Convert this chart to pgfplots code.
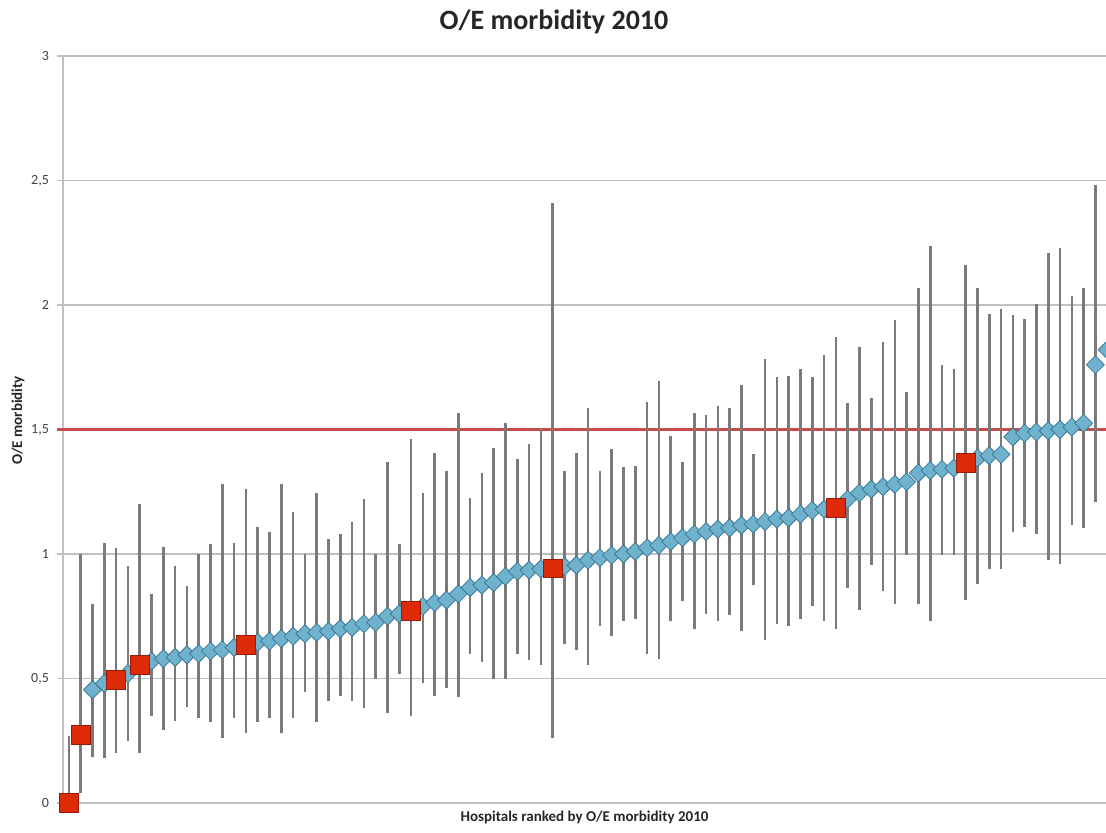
\documentclass[border=0pt]{standalone}
\usepackage{fontspec}
\setmainfont{Carlito}
\usepackage{pgfplots}
\usepackage{pgfplotstable}
\pgfplotsset{compat=1.18}
\definecolor{gridc}{RGB}{192,192,192}
\definecolor{barc}{RGB}{122,122,122}
\definecolor{dfill}{RGB}{110,178,205}
\definecolor{ddraw}{RGB}{62,120,148}
\definecolor{rfill}{RGB}{221,43,8}
\definecolor{rdraw}{RGB}{150,28,5}
\definecolor{refl}{RGB}{200,75,75}

\pgfplotstableread{
i lo hi b r
1 0 0.27 nan 0
2 0.04 1.0 nan 0.275
3 0.185 0.80 0.455 nan
4 0.18 1.045 0.48 nan
5 0.20 1.025 nan 0.495
6 0.25 0.95 0.52 nan
7 0.20 1.20 nan 0.555
8 0.35 0.84 0.57 nan
9 0.295 1.03 0.58 nan
10 0.33 0.95 0.585 nan
11 0.385 0.87 0.595 nan
12 0.34 1.0 0.60 nan
13 0.325 1.04 0.61 nan
14 0.26 1.28 0.615 nan
15 0.34 1.045 0.625 nan
16 0.28 1.26 nan 0.635
17 0.325 1.11 0.645 nan
18 0.34 1.09 0.65 nan
19 0.28 1.28 0.66 nan
20 0.34 1.17 0.67 nan
21 0.445 1.0 0.68 nan
22 0.325 1.245 0.685 nan
23 0.41 1.06 0.69 nan
24 0.43 1.08 0.70 nan
25 0.41 1.13 0.705 nan
26 0.38 1.22 0.72 nan
27 0.50 1.0 0.725 nan
28 0.36 1.37 0.75 nan
29 0.52 1.04 0.76 nan
30 0.35 1.46 nan 0.77
31 0.48 1.245 0.79 nan
32 0.43 1.405 0.805 nan
33 0.46 1.335 0.815 nan
34 0.425 1.565 0.84 nan
35 0.60 1.225 0.865 nan
36 0.565 1.325 0.875 nan
37 0.50 1.425 0.885 nan
38 0.50 1.525 0.91 nan
39 0.60 1.38 0.93 nan
40 0.575 1.44 0.935 nan
41 0.555 1.505 0.94 nan
42 0.26 2.41 nan 0.942
43 0.64 1.335 0.95 nan
44 0.615 1.405 0.955 nan
45 0.555 1.585 0.975 nan
46 0.71 1.335 0.985 nan
47 0.67 1.42 0.995 nan
48 0.73 1.35 1.0 nan
49 0.74 1.355 1.01 nan
50 0.60 1.61 1.025 nan
51 0.58 1.695 1.035 nan
52 0.73 1.475 1.05 nan
53 0.81 1.37 1.065 nan
54 0.70 1.565 1.08 nan
55 0.76 1.56 1.09 nan
56 0.73 1.595 1.10 nan
57 0.755 1.585 1.105 nan
58 0.69 1.68 1.115 nan
59 0.875 1.40 1.12 nan
60 0.655 1.785 1.13 nan
61 0.72 1.71 1.14 nan
62 0.71 1.715 1.145 nan
63 0.74 1.745 1.16 nan
64 0.79 1.71 1.175 nan
65 0.73 1.80 1.18 nan
66 0.70 1.87 nan 1.185
67 0.865 1.605 1.22 nan
68 0.775 1.83 1.245 nan
69 0.955 1.625 1.26 nan
70 0.85 1.85 1.27 nan
71 0.80 1.94 1.28 nan
72 0.995 1.65 1.29 nan
73 0.80 2.07 1.325 nan
74 0.73 2.235 1.335 nan
75 0.995 1.76 1.34 nan
76 0.995 1.745 1.345 nan
77 0.815 2.16 nan 1.365
78 0.88 2.07 1.385 nan
79 0.94 1.965 1.395 nan
80 0.94 1.985 1.40 nan
81 1.09 1.96 1.47 nan
82 1.11 1.945 1.485 nan
83 1.08 2.005 1.49 nan
84 0.975 2.21 1.495 nan
85 0.96 2.23 1.50 nan
86 1.115 2.035 1.51 nan
87 1.105 2.07 1.525 nan
88 1.21 2.48 1.76 nan
89 1.25 2.60 1.82 nan
}\data

\begin{document}
\begin{tikzpicture}
\useasboundingbox (-31.5pt,-14.5pt) rectangle (521.5pt,401.5pt);
\begin{axis}[
  at={(0,0)}, anchor=south west,
  scale only axis, width=521.5pt, height=373.5pt,
  xmin=0.5, xmax=88.9, ymin=0, ymax=3,
  clip=false,
  axis lines*=left,
  axis line style={draw=gridc, line width=0.9pt},
  xtick=\empty,
  ytick={0,0.5,1,1.5,2,2.5,3},
  yticklabels={0,{0,5},1,{1,5},2,{2,5},3},
  ymajorgrids,
  grid style={draw=gridc, line width=0.8pt},
  tick align=outside, major tick length=3pt,
  tick style={draw=gridc, line width=0.8pt},
  yticklabel style={font=\fontsize{7}{8}\selectfont, text=black!75, xshift=-0.5pt},
  xlabel={Hospitals ranked by O/E morbidity 2010},
  ylabel={O/E morbidity},
  label style={font=\bfseries\fontsize{7.5}{9}\selectfont, text=black!85},
  xlabel style={at={(axis description cs:0.5,0)}, anchor=center, yshift=-7pt},
  ylabel style={at={(axis description cs:0,0.512)}, anchor=center, yshift=22.5pt},
]
\addplot[refl, line width=1.2pt, forget plot] coordinates {(0,1.5) (95,1.5)};
\addplot[draw=none, mark=none, forget plot,
  error bars/.cd, y dir=plus, y explicit, error mark=none,
  error bar style={draw=barc, line width=1.3pt}]
  table[x=i, y=lo, y error plus expr=\thisrow{hi}-\thisrow{lo}] {\data};
\addplot[only marks, mark=diamond*, mark size=4.5pt,
  mark options={xscale=1.333, fill=dfill, draw=ddraw, line width=0.4pt}]
  table[x=i, y=b] {\data};
\addplot[only marks, mark=square*, mark size=4.7pt,
  mark options={fill=rfill, draw=rdraw, line width=0.4pt}]
  table[x=i, y=r] {\data};
\end{axis}
\node[font=\bfseries\fontsize{14}{16}\selectfont, text=black!85] at (245.5pt,390.5pt) {O/E morbidity 2010};
\end{tikzpicture}
\end{document}
